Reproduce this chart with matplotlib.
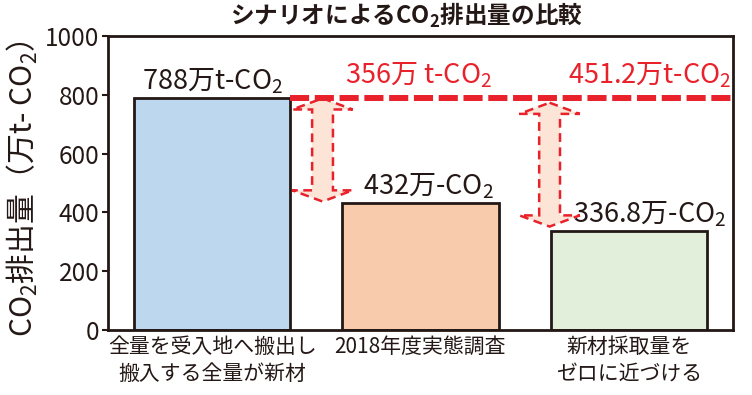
import numpy as np
import matplotlib.pyplot as plt
from matplotlib.patches import Polygon

plt.rcParams['font.family'] = ['Noto Sans CJK JP', 'DejaVu Sans']
plt.rcParams['mathtext.default'] = 'regular'
plt.rcParams['axes.linewidth'] = 2.0

# data
scenarios = ['全量を受入地へ搬出し\n搬入する全量が新材', '2018年度実態調査', '新材採取量を\nゼロに近づける']
emissions = [788, 432, 336.8]
bar_labels = ['788万t-CO$_2$', '432万-CO$_2$', '336.8万-CO$_2$']
reductions = ['356万 t-CO$_2$', '451.2万t-CO$_2$']
bar_colors = ['#bdd7ee', '#f8cbad', '#e2efda']
yticks = [0, 200, 400, 600, 800, 1000]

red = '#e8212b'
ink = '#231815'

fig = plt.figure(figsize=(7.52, 3.95), dpi=100)
ax = fig.add_axes([0.1436, 0.1646, 0.831, 0.7443])

x = np.arange(len(scenarios))
ax.bar(x, emissions, width=0.75, color=bar_colors, edgecolor=ink, linewidth=2.0, zorder=2)

ax.set_xlim(-0.5, 2.5)
ax.set_ylim(0, 1000)
ax.set_yticks(yticks)
ax.tick_params(axis='y', labelsize=17.5, length=4, width=1.5, pad=2, colors=ink)
ax.set_xticks(x)
ax.set_xticklabels(scenarios, fontsize=15, linespacing=1.3)
ax.tick_params(axis='x', length=0, pad=4, colors=ink)
for sp in ax.spines.values():
    sp.set_color(ink)

ax.set_ylabel('CO$_2$排出量（万t- CO$_2$）', fontsize=21.5, color=ink)
ax.yaxis.set_label_coords(-0.108, 0.48)

# value labels above bars
label_x = [0, 1.04, 2.1]
for xi, v, t in zip(label_x, emissions, bar_labels):
    ax.text(xi, v + 8, t, ha='center', va='bottom', fontsize=19.5, color=ink, zorder=4)

# red reference line at the first bar level
ax.plot([0.375, 2.515], [emissions[0], emissions[0]], color=red, lw=4.3,
        dashes=(3.2, 0.95), clip_on=False, zorder=5)

# double arrows showing the reductions
def double_arrow(xc, top, bot, w=0.05, hw=0.145, hl=38):
    pts = [(xc, top), (xc + hw, top - hl), (xc + w, top - hl), (xc + w, bot + hl),
           (xc + hw, bot + hl), (xc, bot), (xc - hw, bot + hl), (xc - w, bot + hl),
           (xc - w, top - hl), (xc - hw, top - hl)]
    ax.add_patch(Polygon(pts, closed=True, facecolor='#fce4d6', edgecolor=red,
                         lw=1.8, linestyle=(0, (3.5, 2.2)), zorder=3))

double_arrow(0.53, emissions[0], emissions[1] + 5)
double_arrow(1.62, emissions[0] - 15, emissions[2] + 15)

# reduction labels
for xi, t in zip([0.99, 2.1], reductions):
    ax.text(xi, 815, t, ha='center', va='bottom', fontsize=19.5, color=red, zorder=4)

fig.text(0.54, 0.962, 'シナリオによるCO$_2$排出量の比較', ha='center', va='center',
         fontsize=17, fontweight='bold', color=ink)

fig.savefig('out.png', dpi=100)
